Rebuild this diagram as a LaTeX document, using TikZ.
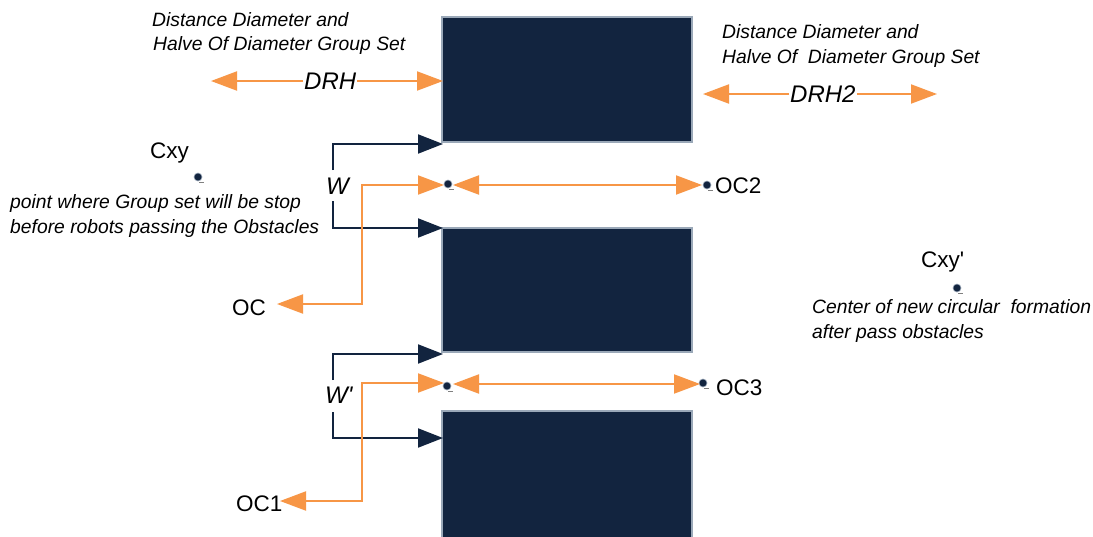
\documentclass[tikz,border=0pt]{standalone}
\usepackage{fontspec}
\setmainfont{Liberation Sans}
\usetikzlibrary{arrows.meta}
\definecolor{navy}{HTML}{12243F}
\definecolor{orng}{HTML}{F79646}
\definecolor{edgec}{HTML}{9AA8B8}
\tikzset{otip/.tip={Triangle[length=26pt,width=19pt]}}
\begin{document}
\begin{tikzpicture}[x=1pt,y=-1pt,
  obst/.style={draw=edgec, line width=1.5pt, fill=navy},
  oline/.style={draw=orng, line width=2pt},
  narrow/.style={draw=navy, line width=2pt, -{Triangle[length=25pt,width=19pt]}},
  dot/.style={circle, fill=navy, draw=edgec, line width=0.6pt, inner sep=0pt, minimum size=8pt},
  desc/.style={font=\fontsize{19.3}{24}\selectfont\itshape, inner sep=0pt, anchor=base west},
  lbl/.style={font=\fontsize{22.5}{26}\selectfont, inner sep=0pt, anchor=base west},
  big/.style={font=\fontsize{24}{28}\selectfont\itshape, inner sep=1pt, anchor=base west}]
\useasboundingbox (0,0) rectangle (1093,536);
\fill[white] (0,0) rectangle (1093,536);

% obstacles
\draw[obst] (442,17) rectangle (692,142) node[pos=0.5] (r1) {};
\draw[obst] (442,228) rectangle (692,352) node[pos=0.5] (r2) {};
\draw[obst] (442,411) rectangle (692,545) node[pos=0.5] (r3) {};

% descriptions top
\node[desc] (dl1) at (152,26) {Distance Diameter and};
\node[desc] (dl2) at (153,50) {Halve Of Diameter Group Set};
\node[desc] (dr1) at (722,38) {Distance Diameter and};
\node[desc] (dr2) at (722,63) {Halve Of\ \ Diameter Group Set};

% DRH
\node[big] (drh) at (303,89) {DRH};
\coordinate (drhL) at (211,81);
\coordinate (drhR) at (443,81);
\draw[oline, -{otip}] (drh.west |- drhL) -- (drhL);
\draw[oline, -{otip}] (drh.east |- drhR) -- (drhR);

% DRH2
\node[big] (drh2) at (789,102) {DRH2};
\coordinate (drh2L) at (703,94);
\coordinate (drh2R) at (937,94);
\draw[oline, -{otip}] (drh2.west |- drh2L) -- (drh2L);
\draw[oline, -{otip}] (drh2.east |- drh2R) -- (drh2R);

% Cxy
\node[lbl] (cxy) at (150,158) {Cxy};
\node[dot] (cxyd) at (198,177) {};
\draw[gray, line width=1pt] ([shift={(1,5.5)}]cxyd.center) -- ([shift={(6,5.5)}]cxyd.center);
\node[desc] (pw1) at (10,208) {point where Group set will be stop};
\node[desc] (pw2) at (10,233) {before robots passing the Obstacles};

% Cxy'
\node[lbl] (cxyp) at (921,267) {Cxy\textquotesingle};
\node[dot] (cxypd) at (957,288) {};
\draw[gray, line width=1pt] ([shift={(1,5.5)}]cxypd.center) -- ([shift={(6,5.5)}]cxypd.center);
\node[desc] (cn1) at (812,313) {Center of new circular\ \ formation};
\node[desc] (cn2) at (812,338) {after pass obstacles};

% W bracket
\node[big, inner sep=0pt] (w) at (326,194) {W};
\coordinate (wa) at (333,170);
\coordinate (wb) at (333,201);
\coordinate (wt) at (443,144);
\coordinate (wbt) at (443,228);
\draw[narrow] (wa) |- (wt);
\draw[narrow] (wb) |- (wbt);

% W' bracket
\node[big, inner sep=0pt] (wp) at (325,403) {W\textquotesingle};
\coordinate (wpa) at (333,380);
\coordinate (wpb) at (333,412);
\coordinate (wpt) at (443,354);
\coordinate (wpbt) at (443,438);
\draw[narrow] (wpa) |- (wpt);
\draw[narrow] (wpb) |- (wpbt);

% OC / OC2
\node[dot] (p1) at (448,184) {};
\node[dot] (p2) at (707,185) {};
\draw[gray, line width=1pt] ([shift={(1,5.5)}]p1.center) -- ([shift={(6,5.5)}]p1.center);
\draw[gray, line width=1pt] ([shift={(1,5.5)}]p2.center) -- ([shift={(6,5.5)}]p2.center);
\node[lbl] (oc2) at (715,193) {OC2};
\node[lbl] (oc) at (232,315) {OC};
\coordinate (c1) at (362,185);
\coordinate (ocT) at (277,304);
\draw[oline, {otip}-{otip}] (ocT) -| (c1) -- (444,185);
\draw[oline, {otip}-{otip}] (453,185) -- (702,185);

% OC1 / OC3
\node[dot] (p3) at (447,386) {};
\node[dot] (p4) at (703,383) {};
\draw[gray, line width=1pt] ([shift={(1,5.5)}]p3.center) -- ([shift={(6,5.5)}]p3.center);
\draw[gray, line width=1pt] ([shift={(1,5.5)}]p4.center) -- ([shift={(6,5.5)}]p4.center);
\node[lbl] (oc3) at (716,395) {OC3};
\node[lbl] (oc1) at (236,511) {OC1};
\coordinate (c2) at (362,383);
\coordinate (oc1T) at (280,501);
\draw[oline, {otip}-{otip}] (oc1T) -| (c2) -- (444,383);
\draw[oline, {otip}-{otip}] (453,384) -- (700,384);
\end{tikzpicture}
\end{document}
